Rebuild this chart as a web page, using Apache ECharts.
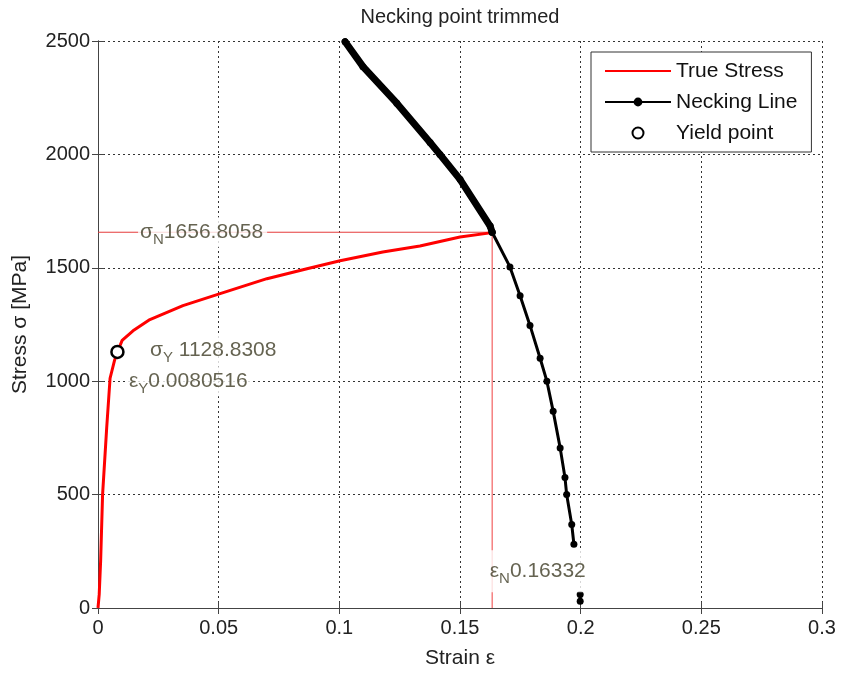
<!DOCTYPE html>
<html>
<head>
<meta charset="utf-8">
<script src="https://cdn.jsdelivr.net/npm/echarts@6/dist/echarts.min.js"></script>
<style>
  html, body { margin: 0; padding: 0; background: #fff; }
  #chart { width: 841px; height: 674px; }
</style>
</head>
<body>
<div id="chart"></div>
<script>
// 真应力曲线
const trueStrain = [0, 0.0005, 0.0011, 0.0019, 0.0036, 0.005, 0.0068, 0.0080516, 0.0100, 0.0145, 0.0215, 0.0352, 0.0506, 0.070, 0.0866, 0.1003, 0.118, 0.1334, 0.15, 0.1625, 0.16332]
const trueStress = [0, 60, 210, 500, 794, 1013, 1090, 1128.8308, 1180, 1222, 1272, 1333, 1386, 1452, 1496, 1531, 1570, 1596, 1636, 1654, 1656.8058]

// 颈缩线：上段（点很密，看起来是粗线）和下段
const neckTopStrain = [0.1024, 0.1098, 0.1238, 0.1376, 0.1417, 0.15, 0.1625, 0.16332]
const neckTopStress = [2497, 2387, 2226, 2052, 2000, 1890, 1684, 1656.8058]
const neckLowStrain = [0.16332, 0.1707, 0.1749, 0.179, 0.1832, 0.186, 0.1886, 0.1915, 0.1935, 0.1942, 0.1963, 0.1972]
const neckLowStress = [1656.8058, 1504, 1377, 1246, 1101, 1000, 868, 706, 575, 500, 368, 281]
const neckTailStrain = [0.1998, 0.1998]
const neckTailStress = [60, 30]

// 屈服点 / 颈缩点
const yieldPoint = [0.0080516, 1128.8308]
const neckPoint = [0.16332, 1656.8058]

const xTicks = { min: 0, max: 0.3, interval: 0.05 }
const yTicks = { min: 0, max: 2500, interval: 500 }

const pairs = (xs, ys) => xs.map((x, i) => [x, ys[i]])

const txtColor = '#3f3c25'
const font = 'Liberation Sans, Arial, sans-serif'
const rich = {
  g: { fontSize: 21, color: txtColor, fontFamily: font, lineHeight: 30, verticalAlign: 'middle' },
  s: { fontSize: 15, color: txtColor, fontFamily: font, lineHeight: 30, verticalAlign: 'bottom' },
  v: { fontSize: 21, color: txtColor, fontFamily: font, lineHeight: 30, verticalAlign: 'middle' }
}

// 标注文字（锚点为数据坐标）
const notes = [
  { pos: [0.0166, neckPoint[1]], text: '{g|σ}{s|N}{v|1656.8058}', pad: [0, 4, 0, 2] },
  { pos: [0.1623, 162], text: '{g|ε}{s|N}{v|0.16332}', pad: [6, 2, 6, 0] },
  { pos: [0.0207, 1136], text: '{g|σ}{s|Y}{v| 1128.8308}', pad: [0, 2] },
  { pos: [0.012, 1000], text: '{g|ε}{s|Y}{v|0.0080516}', pad: [0, 4, 0, 2] }
]

const axisColor = '#444'
const gridLine = { show: true, lineStyle: { color: '#333', type: [2, 3], width: 1 } }
const tickFont = { fontSize: 20, color: '#222', fontFamily: font }

const chart = echarts.init(document.getElementById('chart'))
chart.setOption({
  animation: false,
  backgroundColor: '#fff',
  title: {
    text: 'Necking point trimmed',
    left: 455, top: 2, textAlign: 'center',
    textStyle: { fontSize: 20, fontWeight: 'normal', color: '#222', fontFamily: font }
  },
  grid: { left: 98, right: 19, top: 41, bottom: 63 },
  legend: {
    data: [
      { name: 'True Stress', itemStyle: { opacity: 0 } },
      { name: 'Necking Line' },
      { name: 'Yield point' }
    ],
    orient: 'vertical',
    left: 591, top: 52,
    padding: [8, 14, 8, 13],
    itemWidth: 66, itemHeight: 11, itemGap: 9,
    backgroundColor: '#fff',
    borderColor: '#333', borderWidth: 1,
    textStyle: { fontSize: 21, color: '#111', fontFamily: font, lineHeight: 22 }
  },
  xAxis: [
    {
      type: 'value', ...xTicks,
      name: 'Strain ε', nameLocation: 'middle', nameGap: 40,
      nameTextStyle: { fontSize: 21, color: '#222', fontFamily: font },
      axisLine: { lineStyle: { color: axisColor } },
      axisTick: { inside: true, length: 6, lineStyle: { color: axisColor } },
      axisLabel: { ...tickFont, margin: 10 },
      splitLine: gridLine
    },
    {
      type: 'value', ...xTicks, position: 'top',
      axisLine: { show: true, lineStyle: { color: axisColor } },
      axisTick: { show: true, inside: true, length: 6, lineStyle: { color: axisColor } },
      axisLabel: { show: false }, splitLine: { show: false }
    }
  ],
  yAxis: [
    {
      type: 'value', ...yTicks,
      name: 'Stress σ [MPa]', nameLocation: 'middle', nameGap: 67,
      nameTextStyle: { fontSize: 21, color: '#222', fontFamily: font },
      axisLine: { show: true, lineStyle: { color: axisColor } },
      axisTick: { show: true, inside: true, length: 6, lineStyle: { color: axisColor } },
      axisLabel: { ...tickFont, margin: 8, formatter: v => String(v) },
      splitLine: gridLine
    },
    {
      type: 'value', ...yTicks, position: 'right',
      axisLine: { show: true, lineStyle: { color: axisColor } },
      axisTick: { show: true, inside: true, length: 6, lineStyle: { color: axisColor } },
      axisLabel: { show: false }, splitLine: { show: false }
    }
  ],
  series: [
    {
      name: 'refH', type: 'line', silent: true, symbol: 'none', z: 2,
      data: [[0, neckPoint[1]], neckPoint],
      lineStyle: { color: '#e53b3b', width: 1 }
    },
    {
      name: 'refV', type: 'line', silent: true, symbol: 'none', z: 2,
      data: [[neckPoint[0], 0], neckPoint],
      lineStyle: { color: '#f04040', width: 1 }
    },
    {
      name: 'True Stress', type: 'line', symbol: 'none', z: 3,
      data: pairs(trueStrain, trueStress),
      lineStyle: { color: '#ff0000', width: 3 },
      itemStyle: { color: '#ff0000' }
    },
    {
      name: 'Necking Line', type: 'line', symbol: 'circle', symbolSize: 7, z: 4,
      data: pairs(neckLowStrain, neckLowStress),
      lineStyle: { color: '#000', width: 3 },
      itemStyle: { color: '#000' }
    },
    {
      name: 'Necking Line', type: 'line', symbol: 'circle', symbolSize: 7, z: 4,
      data: pairs(neckTopStrain, neckTopStress),
      lineStyle: { color: '#000', width: 7, cap: 'round', join: 'round' },
      itemStyle: { color: '#000' }
    },
    {
      name: 'Necking Line', type: 'line', symbol: 'circle', symbolSize: 7, z: 4,
      data: pairs(neckTailStrain, neckTailStress),
      lineStyle: { color: '#000', width: 3 },
      itemStyle: { color: '#000' }
    },
    {
      name: 'Yield point', type: 'scatter', symbol: 'circle', symbolSize: 12, z: 6,
      data: [yieldPoint],
      itemStyle: { color: '#fff', borderColor: '#000', borderWidth: 2.5, opacity: 1 }
    },
    {
      name: 'notes', type: 'scatter', silent: true, symbolSize: 0, z: 5,
      data: notes.map(n => ({
        value: n.pos,
        label: {
          show: true, position: 'right', distance: 0,
          formatter: n.text, rich: rich,
          backgroundColor: '#fff', padding: n.pad
        }
      }))
    }
  ]
})
</script>
</body>
</html>
